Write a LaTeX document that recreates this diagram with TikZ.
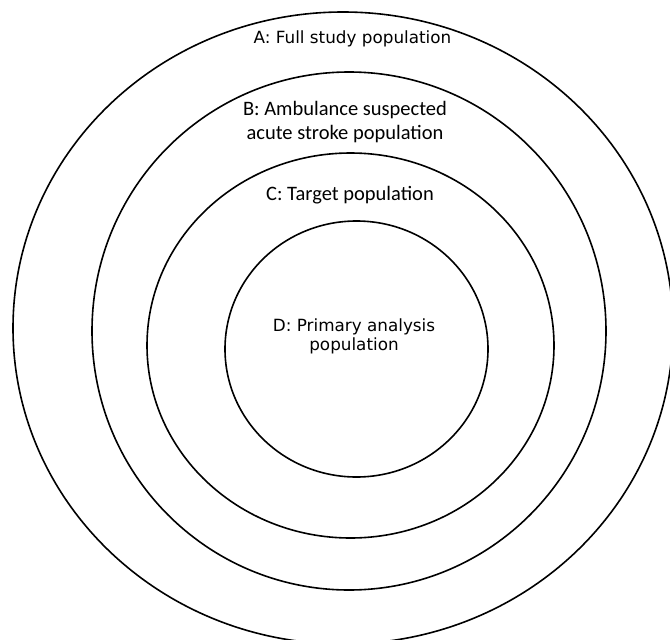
\documentclass[tikz,border=0pt]{standalone}
\usepackage{fontspec}
\setmainfont{DejaVu Sans}
\newfontfamily\calib{Carlito}
\usetikzlibrary{shapes.geometric}
\tikzset{
  ring/.style={ellipse, draw=black, line width=1.6pt, inner sep=0pt, outer sep=0pt},
  dlabel/.style={font=\fontsize{16.8}{19.5}\selectfont, align=center, inner sep=0pt, anchor=base},
  clabel/.style={font=\calib\fontsize{20.5}{23.4}\selectfont, align=center, inner sep=0pt, anchor=base}
}
\begin{document}
\begin{tikzpicture}[x=1pt,y=-1pt]
\useasboundingbox (0,0) rectangle (670,640);
\clip (0,0) rectangle (670,640);
\fill[white] (0,0) rectangle (670,640);
\node[ring, minimum width=660pt, minimum height=632pt] (A) at (343,328) {};
\node[ring, minimum width=514pt, minimum height=518pt] (B) at (349,331) {};
\node[ring, minimum width=407pt, minimum height=385pt] (C) at (350.5,345.5) {};
\node[ring, minimum width=263pt, minimum height=256pt] (D) at (356.5,349) {};
\node[dlabel] (la) at (352.5,43) {A: Full study population};
\node[clabel] (lb) at (345,139) {B: Ambulance suspected\\acute stroke population};
\node[clabel] (lc) at (350,200) {C: Target population};
\node[dlabel] (ld) at (354,350.5) {D: Primary analysis\\population};
\end{tikzpicture}
\end{document}
